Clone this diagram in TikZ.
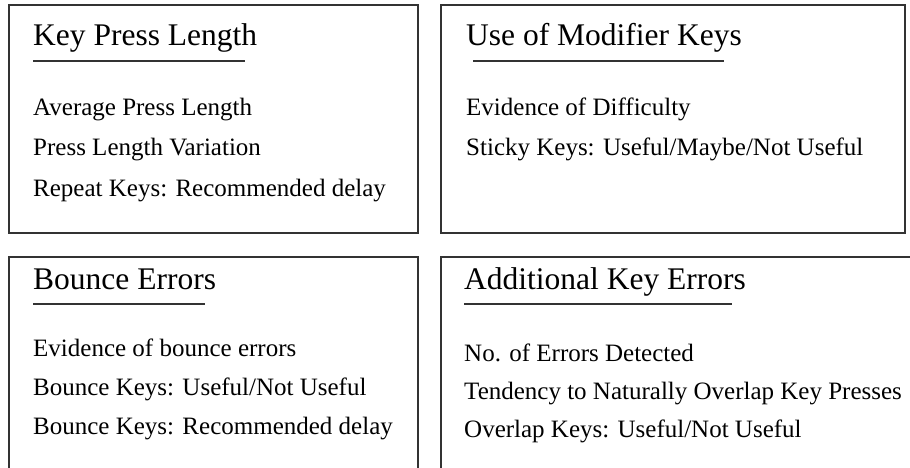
\documentclass[tikz,border=0pt]{standalone}
\usepackage{fontspec}
\usepackage{xcolor}
\usepackage{tikz}
\setmainfont{Liberation Serif}
\definecolor{linea}{HTML}{333333}

\tikzset{
  panel/.style={draw=linea, line width=1.3pt},
  titulo/.style={anchor=base west, inner sep=0pt, font=\fontsize{31.5}{36}\selectfont},
  item/.style={anchor=base west, inner sep=0pt, font=\fontsize{25}{30}\selectfont},
  raya/.style={draw=linea, line width=2pt}
}

\begin{document}
\begin{tikzpicture}[x=1pt, y=-1pt]
    \clip (0,0) rectangle (910,468);
    \fill[white] (0,0) rectangle (910,468);
    % Recuadros
    \draw[panel] (9,5) rectangle (418,233);
    \draw[panel] (441,5) rectangle (905,233);
    \draw[panel] (9,257) rectangle (418,480);
    \draw[panel] (441,257) rectangle (930,480);

    % Recuadro 1
    \node[titulo] (t1) at (33,46) {Key Press Length};
    \draw[raya] (33,61) -- (245,61);
    \node[item] (a1) at (33,116) {Average Press Length};
    \node[item] (a2) at (33,156) {Press Length Variation};
    \node[item] (a3) at (33,196) {Repeat Keys: Recommended delay};

    % Recuadro 2
    \node[titulo] (t2) at (466,46) {Use of Modifier Keys};
    \draw[raya] (473,61) -- (724,61);
    \node[item] (b1) at (466,116) {Evidence of Difficulty};
    \node[item] (b2) at (466,156) {Sticky Keys: Useful/Maybe/Not Useful};

    % Recuadro 3
    \node[titulo] (t3) at (33,289) {Bounce Errors};
    \draw[raya] (33,304) -- (205,304);
    \node[item] (c1) at (33,356) {Evidence of bounce errors};
    \node[item] (c2) at (33,395) {Bounce Keys: Useful/Not Useful};
    \node[item] (c3) at (33,434) {Bounce Keys: Recommended delay};

    % Recuadro 4
    \node[titulo] (t4) at (464,289) {Additional Key Errors};
    \draw[raya] (464,304) -- (732,304);
    \node[item] (d1) at (464,361) {No. of Errors Detected};
    \node[item] (d2) at (464,399) {Tendency to Naturally Overlap Key Presses};
    \node[item] (d3) at (464,437) {Overlap Keys: Useful/Not Useful};
\end{tikzpicture}
\end{document}
